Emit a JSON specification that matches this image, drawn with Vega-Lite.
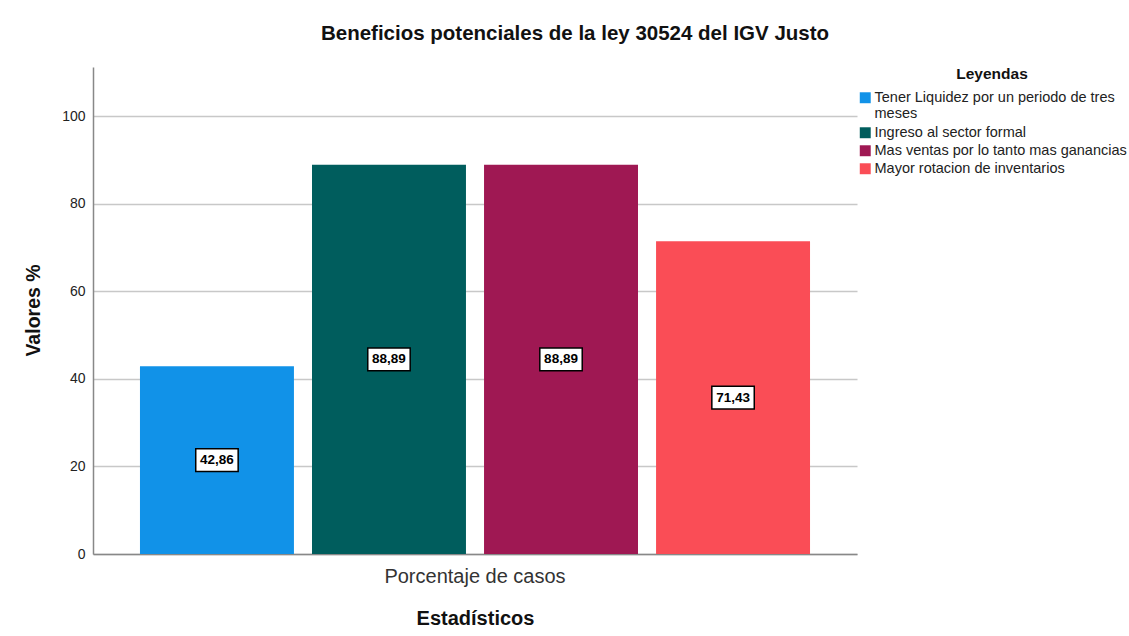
{
  "$schema": "https://vega.github.io/schema/vega-lite/v6.json",
  "width": 764,
  "height": 487,
  "autosize": {"type": "none"},
  "padding": {"left": 93, "top": 67, "right": 272, "bottom": 82},
  "background": "white",
  "config": {
    "font": "Liberation Sans",
    "view": {"stroke": null},
    "locale": {"number": {"decimal": ",", "thousands": ".", "grouping": [3], "currency": ["", ""]}}
  },
  "title": {
    "text": "Beneficios potenciales de la ley 30524 del IGV Justo",
    "fontSize": 20.5,
    "fontWeight": "bold",
    "color": "#111",
    "anchor": "middle",
    "dx": 100,
    "offset": 23
  },
  "data": {
    "values": [
      {"stat": "Porcentaje de casos", "serie": "Tener Liquidez por un periodo de tres meses", "valor": 42.86},
      {"stat": "Porcentaje de casos", "serie": " Ingreso al sector formal", "valor": 88.89},
      {"stat": "Porcentaje de casos", "serie": "Mas ventas por lo tanto mas ganancias", "valor": 88.89},
      {"stat": "Porcentaje de casos", "serie": "Mayor rotacion de inventarios", "valor": 71.43}
    ]
  },
  "encoding": {
    "x": {
      "field": "stat",
      "type": "nominal",
      "scale": {"paddingInner": 0, "paddingOuter": 0.0701},
      "axis": {
        "title": "Estadísticos",
        "titleFontSize": 20,
        "titleFontWeight": "bold",
        "titleColor": "#111",
        "titleY": 64,
        "titleBaseline": "middle",
        "labelAngle": 0,
        "labelFontSize": 20,
        "labelColor": "#333",
        "labelPadding": 12,
        "labelLimit": 600,
        "ticks": false,
        "tickSize": 0,
        "domainColor": "#888",
        "domainWidth": 1.5,
        "grid": false
      }
    },
    "xOffset": {
      "field": "serie",
      "type": "nominal",
      "sort": null,
      "scale": {"paddingInner": 0.105, "paddingOuter": 0}
    }
  },
  "layer": [
    {
      "mark": {"type": "bar"},
      "encoding": {
        "y": {
          "field": "valor",
          "type": "quantitative",
          "scale": {"domain": [0, 111.2], "nice": false},
          "axis": {
            "title": "Valores %",
            "titleFontSize": 19.5,
            "titleFontWeight": "bold",
            "titleColor": "#111",
            "titleX": -60,
            "titleY": 243,
            "titleAngle": -90,
            "titleBaseline": "middle",
            "values": [0, 20, 40, 60, 80, 100],
            "labelFontSize": 14,
            "labelColor": "#222",
            "labelPadding": 8,
            "ticks": false,
            "tickSize": 0,
            "domainColor": "#888",
            "domainWidth": 1.5,
            "grid": true,
            "gridColor": "#c8c8c8",
            "gridWidth": 1.5
          }
        },
        "color": {
          "field": "serie",
          "type": "nominal",
          "sort": null,
          "scale": {
            "domain": ["Tener Liquidez por un periodo de tres meses", " Ingreso al sector formal", "Mas ventas por lo tanto mas ganancias", "Mayor rotacion de inventarios"],
            "range": ["#1192e8", "#005d5d", "#9f1853", "#fa4d56"]
          },
          "legend": {
            "title": "Leyendas",
            "titleFontSize": 15.5,
            "titleFontWeight": "bold",
            "titleColor": "#111",
            "titleAnchor": "middle",
            "titlePadding": 8,
            "orient": "right",
            "offset": 1,
            "symbolType": "square",
            "symbolSize": 120,
            "symbolStrokeWidth": 0,
            "labelFontSize": 14.5,
            "labelColor": "#222",
            "labelOffset": 2,
            "labelLimit": 400,
            "labelExpr": "datum.label == 'Tener Liquidez por un periodo de tres meses' ? ['Tener Liquidez por un periodo de tres', 'meses'] : datum.label",
            "rowPadding": 3
          }
        }
      }
    },
    {
      "mark": {
        "type": "point",
        "shape": "M-1,-0.54H1V0.54H-1Z",
        "size": 1800,
        "filled": true,
        "fill": "white",
        "stroke": "black",
        "strokeWidth": 1.5,
        "opacity": 1
      },
      "encoding": {
        "y": {
          "field": "valor",
          "type": "quantitative",
          "scale": {"domain": [0, 222.4], "nice": false},
          "axis": null
        }
      }
    },
    {
      "mark": {
        "type": "text",
        "fontSize": 13.5,
        "fontWeight": "bold",
        "color": "black",
        "baseline": "middle",
        "align": "center"
      },
      "encoding": {
        "y": {
          "field": "valor",
          "type": "quantitative",
          "scale": {"domain": [0, 222.4], "nice": false},
          "axis": null
        },
        "text": {"field": "valor", "type": "quantitative", "format": ".2f"}
      }
    }
  ],
  "resolve": {"scale": {"y": "independent"}}
}
